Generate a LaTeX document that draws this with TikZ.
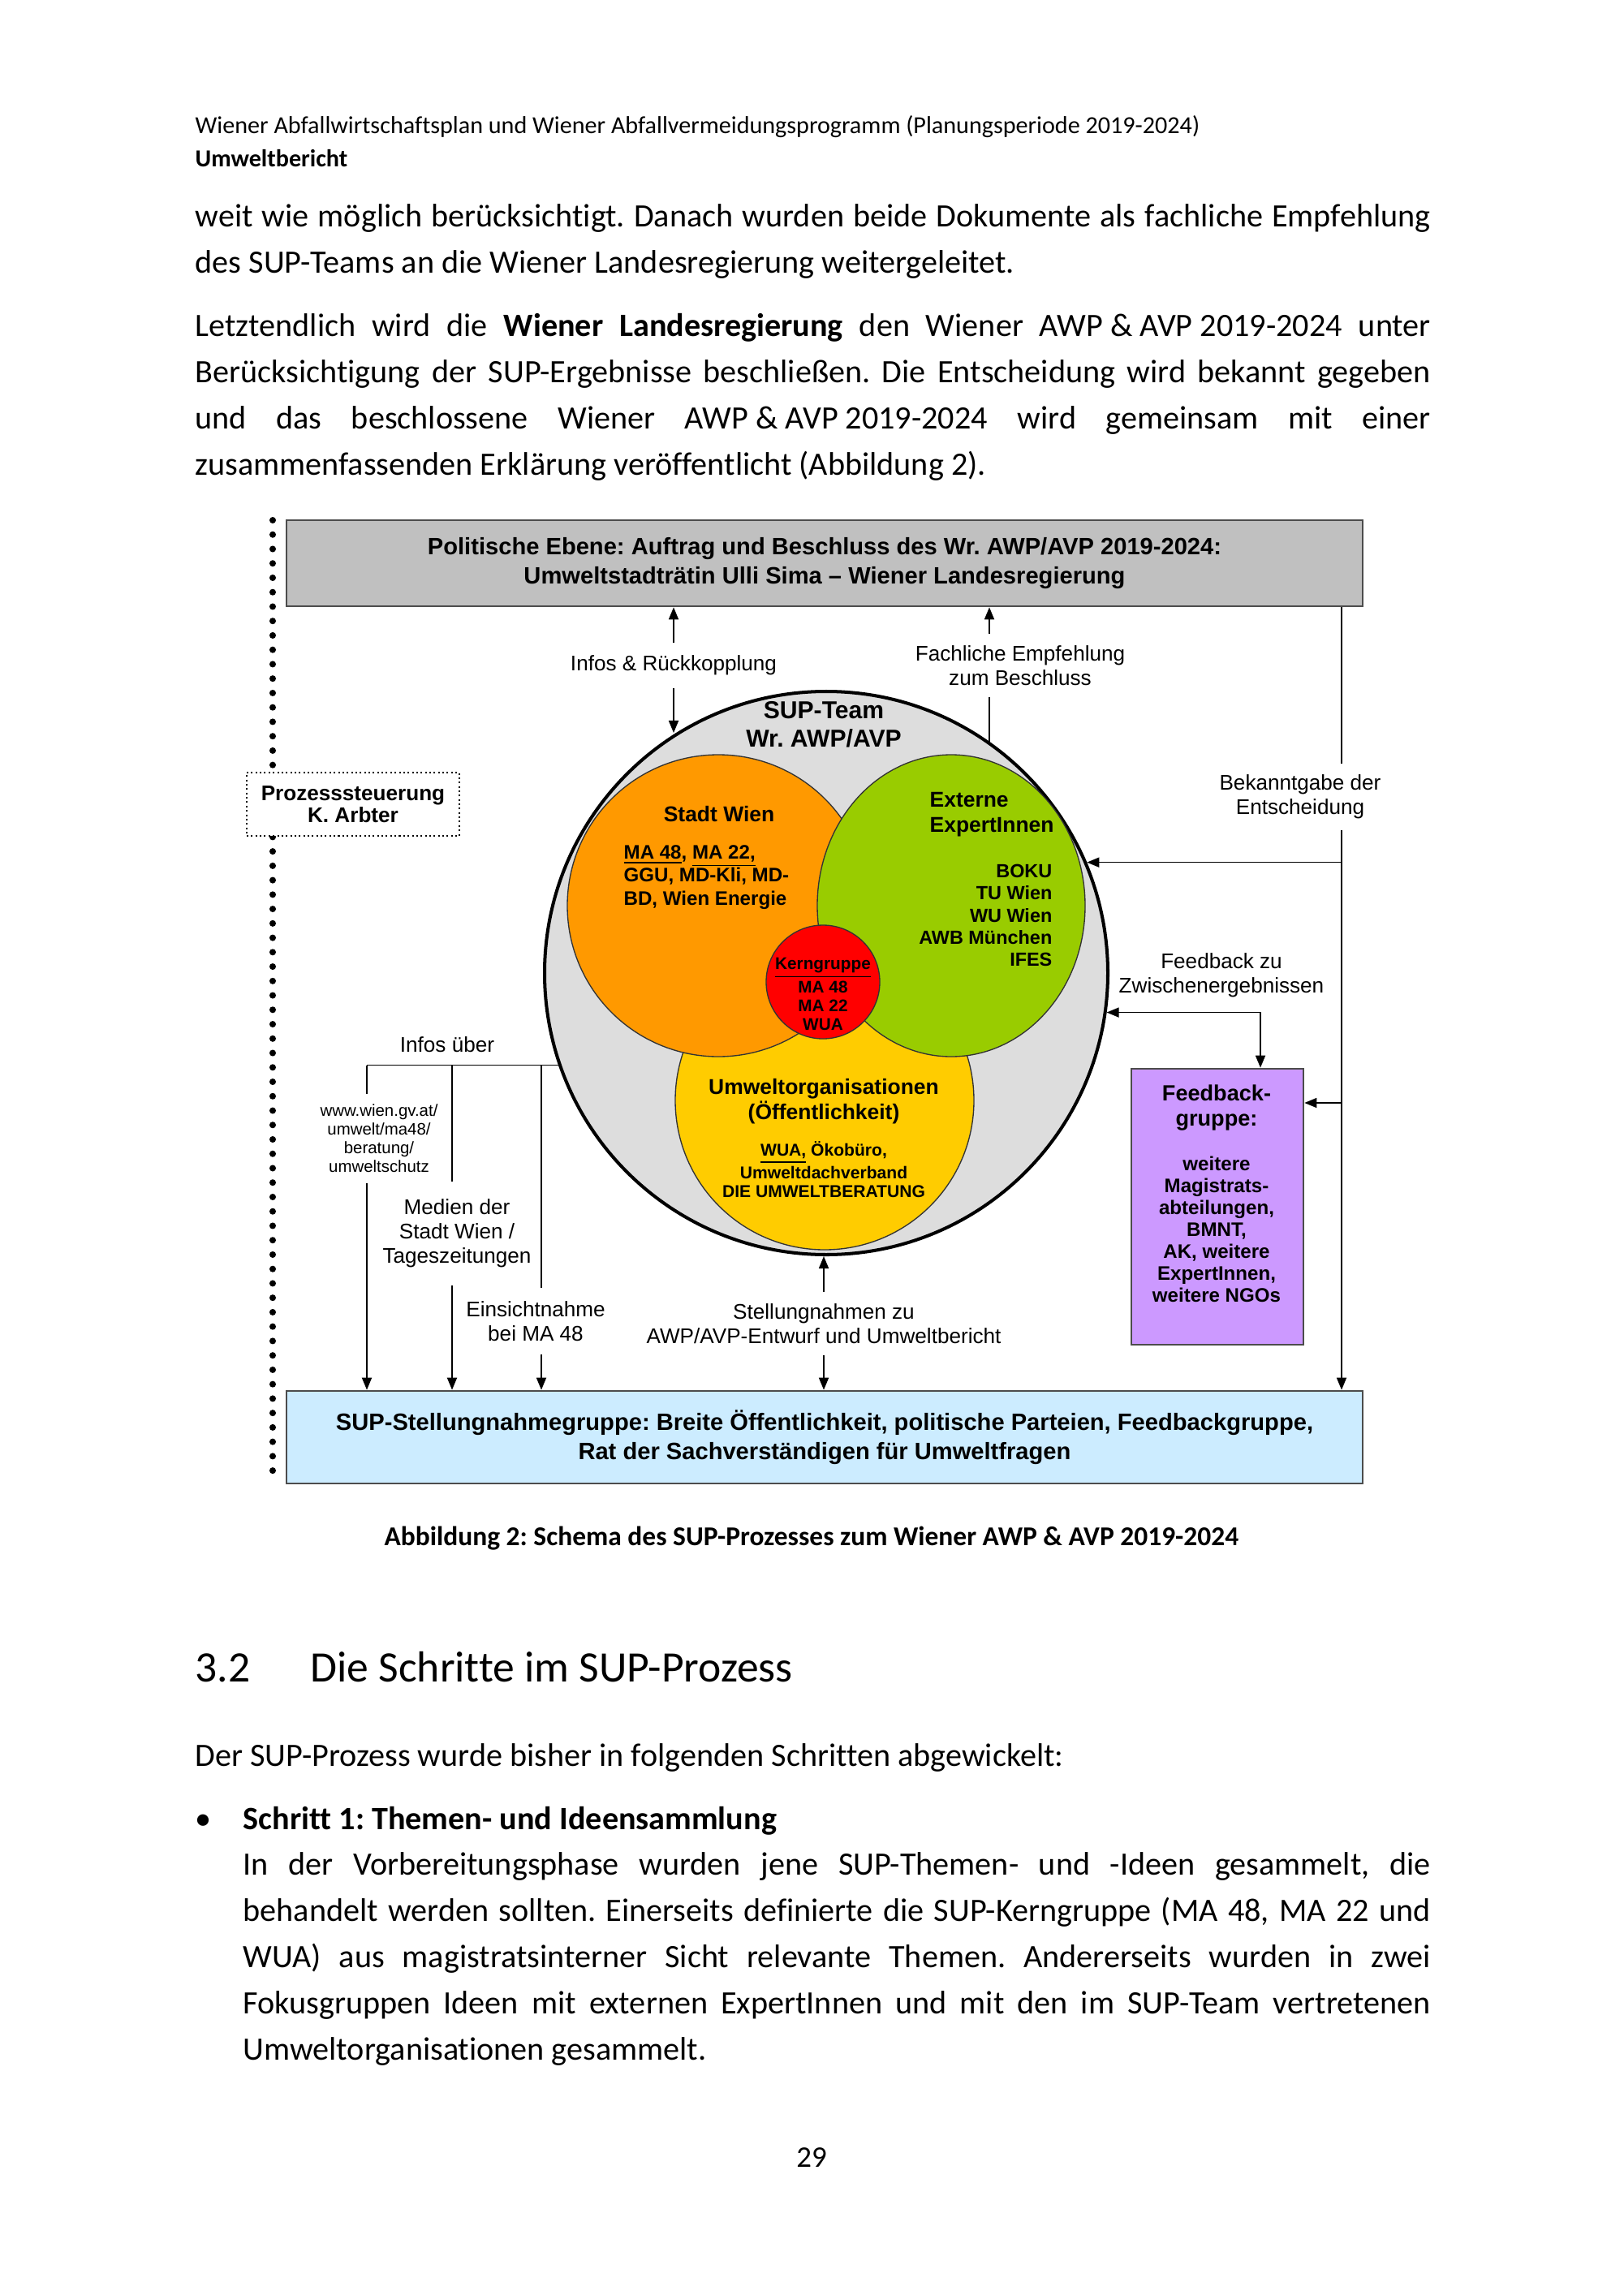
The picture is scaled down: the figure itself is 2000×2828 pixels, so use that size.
\documentclass[tikz,border=0pt]{standalone}
\usepackage{fontspec}
\setmainfont[Ligatures={NoCommon}]{Carlito}
\newfontfamily\arialf{Liberation Sans}
\usetikzlibrary{arrows.meta,shapes.geometric}
\newlength\pxu \setlength\pxu{0.0105cm}
\newcommand\fsz[2]{\fontsize{#1}{#2}\selectfont}
\definecolor{boxgrey}{HTML}{C0C0C0}
\definecolor{circgrey}{HTML}{DDDDDD}
\definecolor{sorange}{HTML}{FF9900}
\definecolor{sgreen}{HTML}{99CC00}
\definecolor{syellow}{HTML}{FFCC00}
\definecolor{sred}{HTML}{FF0000}
\definecolor{spurple}{HTML}{CC99FF}
\definecolor{sblue}{HTML}{CCECFF}
\begin{document}
\frenchspacing
\begin{tikzpicture}[x=0.0105cm,y=-0.0105cm,
  >={Triangle[length=4.5pt,width=3.6pt]},
  conn/.style={line width=0.5pt},
  bodyline/.style={anchor=base west,inner sep=0,font=\fsz{12}{14}},
  bigbox/.style={draw=black!70,line width=0.8pt,minimum width=1326\pxu,inner sep=0,align=center,font=\arialf\bfseries\fsz{8.7}{10.8}},
  lab/.style={inner sep=0,align=center,font=\arialf\fsz{7.8}{9}},
  disc/.style={draw=black!80,line width=0.4pt,inner sep=0},
  ctext/.style={inner sep=0,font=\arialf\bfseries\fsz{7.9}{9.3}}]
\useasboundingbox (0,0) rectangle (2000,2828);
\fill[white] (0,0) rectangle (2000,2828);

% ---------- page text ----------
\node[bodyline,font=\fsz{9}{11}] (h1) at (240,165) {Wiener Abfallwirtschaftsplan und Wiener Abfallvermeidungsprogramm (Planungsperiode 2019-2024)};
\node[bodyline,font=\fsz{9}{11}\bfseries] (h2) at (240,206) {Umweltbericht};

\node[bodyline] (p1) at (240,280) {\makebox[1522\pxu][s]{weit wie möglich berücksichtigt. Danach wurden beide Dokumente als fachliche Empfehlung}};
\node[bodyline] (p2) at (240,337) {des SUP-Teams an die Wiener Landesregierung weitergeleitet.};
\node[bodyline] (p3) at (240,415) {\makebox[1522\pxu][s]{Letztendlich wird die \textbf{Wiener Landesregierung} den Wiener \mbox{AWP \& AVP 2019-2024} unter}};
\node[bodyline] (p4) at (240,472) {\makebox[1522\pxu][s]{Berücksichtigung der SUP-Ergebnisse beschließen. Die Entscheidung wird bekannt gegeben}};
\node[bodyline] (p5) at (240,528) {\makebox[1522\pxu][s]{und das beschlossene Wiener \mbox{AWP \& AVP 2019-2024} wird gemeinsam mit einer}};
\node[bodyline] (p6) at (240,585) {zusammenfassenden Erklärung veröffentlicht (Abbildung 2).};

\node[anchor=base,inner sep=0,font=\fsz{10}{12}\bfseries] (cap) at (1000,1904) {Abbildung 2: Schema des SUP-Prozesses zum Wiener AWP \& AVP 2019-2024};

\node[bodyline,font=\fsz{16}{19}] (secnum) at (240,2072) {3.2};
\node[bodyline,font=\fsz{16}{19}] (sectitle) at (382,2072) {Die Schritte im SUP-Prozess};
\node[bodyline] (q0) at (240,2176) {Der SUP-Prozess wurde bisher in folgenden Schritten abgewickelt:};
\node[bodyline] (bul) at (240,2254) {•};
\node[bodyline,font=\fsz{12}{14}\bfseries] (q1) at (299,2254) {Schritt 1: Themen- und Ideensammlung};
\node[bodyline] (q2) at (299,2310) {\makebox[1463\pxu][s]{In der Vorbereitungsphase wurden jene SUP-Themen- und -Ideen gesammelt, die}};
\node[bodyline] (q3) at (299,2367) {\makebox[1463\pxu][s]{behandelt werden sollten. Einerseits definierte die SUP-Kerngruppe (MA 48, MA 22 und}};
\node[bodyline] (q4) at (299,2424) {\makebox[1463\pxu][s]{WUA) aus magistratsinterner Sicht relevante Themen. Andererseits wurden in zwei}};
\node[bodyline] (q5) at (299,2481) {\makebox[1463\pxu][s]{Fokusgruppen Ideen mit externen ExpertInnen und mit den im SUP-Team vertretenen}};
\node[bodyline] (q6) at (299,2538) {Umweltorganisationen gesammelt.};
\node[anchor=base,inner sep=0,font=\fsz{11}{13}] (pnum) at (1000,2670) {29};

% ---------- diagram ----------
\coordinate (dtop) at (336,641);
\coordinate (dbot) at (336,1828);
\draw[line width=2.4pt,line cap=round,dash pattern=on 0pt off 5.3pt] (dtop) -- (dbot);

\node[bigbox,fill=boxgrey,minimum height=106\pxu] (top) at (1016,694)
  {Politische Ebene: Auftrag und Beschluss des Wr. AWP/AVP 2019-2024:\\Umweltstadträtin Ulli Sima – Wiener Landesregierung};
\node[bigbox,fill=sblue,minimum height=114\pxu] (blue) at (1016,1771)
  {SUP-Stellungnahmegruppe: Breite Öffentlichkeit, politische Parteien, Feedbackgruppe,\\Rat der Sachverständigen für Umweltfragen};
\node[draw,densely dotted,line width=0.6pt,fill=white,minimum width=262\pxu,minimum height=78\pxu,inner sep=0,align=center,font=\arialf\bfseries\fsz{7.8}{8.1}] (proz) at (435,991) {Prozesssteuerung\\K. Arbter};

% circles
\node[circle,draw,line width=1.2pt,fill=circgrey,minimum size=694\pxu,inner sep=0] (sup) at (1018,1199) {};
\node[disc,circle,fill=syellow,minimum size=368\pxu] (umw) at (1016,1356) {};
\node[disc,circle,fill=sorange,minimum size=372\pxu] (stadt) at (885,1116) {};
\node[disc,ellipse,fill=sgreen,minimum width=330\pxu,minimum height=372\pxu] (ext) at (1172,1116) {};
\node[disc,circle,fill=sred,minimum size=140\pxu] (kern) at (1014,1210) {};

\node[inner sep=0,align=center,font=\arialf\bfseries\fsz{9}{10.5}] (team) at (1015,893) {SUP-Team\\Wr. AWP/AVP};
\node[ctext] (stadtlbl) at (886,1003) {Stadt Wien};
\node[inner sep=0,anchor=west,align=left,font=\arialf\bfseries\fsz{7.2}{8.6}] (stadtlist) at (768,1081) {\underline{MA 48}, \underline{MA 22,}\\GGU, MD-Kli, MD-\\BD, Wien Energie};
\node[ctext,anchor=west,align=left] (extlbl) at (1145,1004) {Externe\\ExpertInnen};
\node[inner sep=0,anchor=east,align=right,font=\arialf\bfseries\fsz{7}{8.2}] (extlist) at (1297,1128) {BOKU\\TU Wien\\WU Wien\\AWB München\\IFES};
\node[inner sep=0,align=center,font=\arialf\bfseries\fsz{6.2}{7}] (kernlbl) at (1014,1225) {\underline{Kerngruppe}\\MA 48\\MA 22\\WUA};
\node[ctext,align=center] (umwlbl) at (1015,1357) {Umweltorganisationen\\(Öffentlichkeit)};
\node[inner sep=0,align=center,font=\arialf\bfseries\fsz{6.3}{6.9}] (umwlist) at (1015,1441) {\underline{WUA,} Ökobüro,\\Umweltdachverband\\DIE UMWELTBERATUNG};

% feedback group
\node[draw=black!70,line width=0.8pt,fill=spurple,minimum width=212\pxu,minimum height=340\pxu,inner sep=0] (fb) at (1500,1487) {};
\node[inner sep=0,align=center,font=\arialf\bfseries\fsz{8.1}{9}] (fbt) at (1499,1365) {Feedback-\\gruppe:};
\node[inner sep=0,align=center,font=\arialf\bfseries\fsz{7.2}{8.1}] (fbl) at (1499,1515) {weitere\\Magistrats-\\abteilungen,\\BMNT,\\AK, weitere\\ExpertInnen,\\weitere NGOs};

% labels
\node[lab,minimum height=54\pxu] (infos) at (830,820) {Infos \& Rückkopplung};
\node[lab,minimum height=76\pxu] (fach) at (1257,820) {Fachliche Empfehlung\\zum Beschluss};
\node[lab,minimum height=80\pxu] (bek) at (1602,982) {Bekanntgabe der\\Entscheidung};
\node[lab] (fbz) at (1505,1202) {Feedback zu\\Zwischenergebnissen};
\node[lab] (iub) at (551,1287) {Infos über};
\node[inner sep=0,align=center,font=\arialf\fsz{6.1}{6.9},minimum height=109\pxu] (www) at (467,1403) {www.wien.gv.at/\\umwelt/ma48/\\beratung/\\umweltschutz};
\node[lab,minimum height=126\pxu] (med) at (563,1520) {Medien der\\Stadt Wien /\\Tageszeitungen};
\node[lab,minimum height=80\pxu] (ein) at (660,1628) {Einsichtnahme\\bei MA 48};
\node[lab,minimum height=76\pxu] (stell) at (1015,1631) {Stellungnahmen zu\\AWP/AVP-Entwurf und Umweltbericht};

% connectors
\coordinate (fx) at (1219,800);
\coordinate (rx) at (1653,800);
\coordinate (r2) at (1653,1359);
\coordinate (fbx) at (1553,1250);
\coordinate (iu) at (sup.199.5);
\coordinate (wx) at (452,1315);
\coordinate (mx) at (557,1315);
\coordinate (ex) at (667,1315);

\draw[conn,->] (infos.north) -- (infos.north |- top.south);
\draw[conn,->] (infos.south) -- (infos.south |- sup.122.8);
\draw[conn,->] (fx |- fach.north) -- (fx |- top.south);
\draw[conn] (fx |- fach.south) -- (fx |- sup.54.6);

\draw[conn] (rx |- top.south) -- (rx |- bek.north);
\draw[conn,->] (rx |- bek.south) -- (rx |- blue.north);
\draw[conn,->] (rx |- sup.23.6) -- (sup.23.6);
\draw[conn,->] (r2) -- (r2 -| fb.east);
\draw[conn,<->] (sup.-8.1) -| (fbx |- fb.north);

\draw[conn] (iu) -- (wx |- iu);
\draw[conn] (wx |- iu) -- (wx |- www.north);
\draw[conn,->] (wx |- www.south) -- (wx |- blue.north);
\draw[conn] (mx |- iu) -- (mx |- med.north);
\draw[conn,->] (mx |- med.south) -- (mx |- blue.north);
\draw[conn] (ex |- iu) -- (ex |- ein.north);
\draw[conn,->] (ex |- ein.south) -- (ex |- blue.north);

\draw[conn,->] (stell.north) -- (stell.north |- sup.south);
\draw[conn,->] (stell.south) -- (stell.south |- blue.north);
\end{tikzpicture}
\end{document}
